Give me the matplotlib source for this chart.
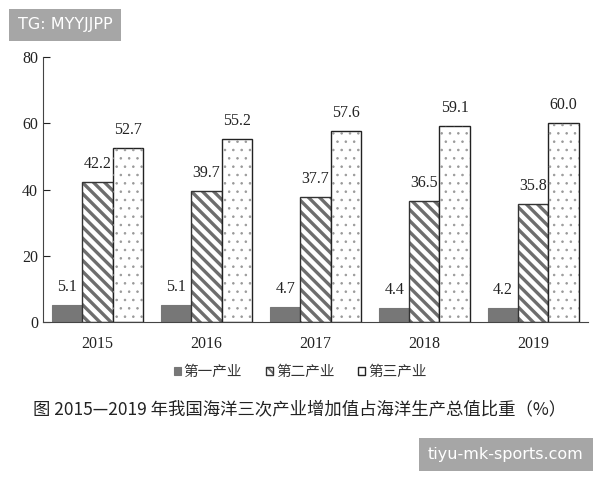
import numpy as np
import matplotlib.pyplot as plt

plt.rcParams['font.family'] = ['Liberation Serif', 'Noto Sans CJK SC']

years = ['2015', '2016', '2017', '2018', '2019']
primary = [5.1, 5.1, 4.7, 4.4, 4.2]
secondary = [42.2, 39.7, 37.7, 36.5, 35.8]
tertiary = [52.7, 55.2, 57.6, 59.1, 60.0]
series_names = ['第一产业', '第二产业', '第三产业']

fig = plt.figure(figsize=(6, 4.8), dpi=100)
ax = fig.add_axes([0.0717, 0.329, 0.908, 0.552])

x = np.arange(len(years))
w = 0.277

b1 = ax.bar(x - w, primary, w, color='#777777', edgecolor='#777777', linewidth=0.8)

plt.rcParams['hatch.linewidth'] = 2.4
plt.rcParams['hatch.color'] = '#6e6e6e'
b2 = ax.bar(x, secondary, w, color='white', edgecolor='#333333', hatch='\\\\\\', linewidth=1.0)
for p in b2:
    p._hatch_color = (0.43, 0.43, 0.43, 1)

b3 = ax.bar(x + w, tertiary, w, color='white', edgecolor='#222222', linewidth=1.0)
# sparse small dots for the third series
plt.rcParams['hatch.linewidth'] = 0.6
b3d = ax.bar(x + w, tertiary, w, color='none', edgecolor='none', hatch='..')
for p in b3d:
    p._hatch_color = (0.6, 0.6, 0.6, 1)
plt.rcParams['hatch.linewidth'] = 1.5

for bars, vals in [(b1, primary), (b2, secondary), (b3, tertiary)]:
    for p, v in zip(bars, vals):
        ax.text(p.get_x() + p.get_width() / 2, v + 3, f'{v:.1f}', ha='center', va='bottom',
                fontsize=11.5, color='#222222')

ax.set_xlim(-0.5, 4.5)
ax.set_ylim(0, 80)
ax.set_yticks([0, 20, 40, 60, 80])
ax.set_xticks(x)
ax.set_xticklabels(years, fontsize=11.5)
ax.tick_params(axis='y', direction='in', length=5, labelsize=11.5, colors='#222222')
ax.tick_params(axis='x', length=0, pad=10, labelsize=11.5, colors='#222222')
for s in ['top', 'right']:
    ax.spines[s].set_visible(False)
ax.spines['left'].set_color('#444444')
ax.spines['bottom'].set_color('#444444')

leg = fig.legend([b1, b2, b3], series_names, loc='center', bbox_to_anchor=(0.5, 0.225), ncol=3,
                 frameon=False, prop={'family': 'Noto Sans CJK SC', 'size': 10.5},
                 handlelength=0.5, handleheight=0.5, handletextpad=0.2, columnspacing=1.6)
for t in leg.get_texts():
    t.set_color('#333333')

fig.text(0.5, 0.145, '图 2015—2019 年我国海洋三次产业增加值占海洋生产总值比重（%）', ha='center', va='center',
         fontsize=12.5, family=['Noto Sans CJK SC', 'DejaVu Sans'], color='#222222')

fig.text(0.03, 0.948, 'TG: MYYJJPP', ha='left', va='center', fontsize=11.5, color='white',
         family='DejaVu Sans', bbox=dict(boxstyle='square,pad=0.55', fc='#a6a6a6', ec='none'))
fig.text(0.973, 0.053, 'tiyu-mk-sports.com', ha='right', va='center', fontsize=11.5, color='white',
         family='DejaVu Sans', bbox=dict(boxstyle='square,pad=0.55', fc='#a6a6a6', ec='none'))

fig.savefig('out.png', dpi=100)
